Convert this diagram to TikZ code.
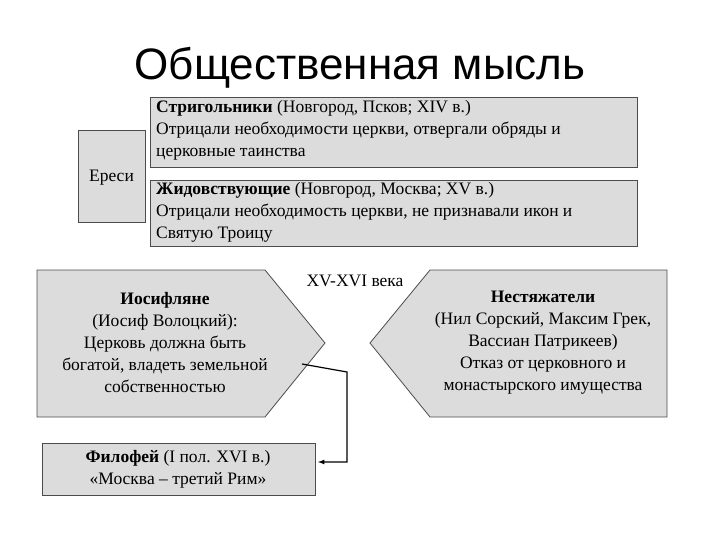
\documentclass[tikz,border=0pt]{standalone}
\usepackage{fontspec}
\setmainfont{Liberation Serif}
\newfontfamily\titlefont{Liberation Sans}
\definecolor{boxgray}{HTML}{DCDCDC}
\begin{document}
\begin{tikzpicture}[x=1pt,y=-1pt,
  box/.style={draw=black!70,fill=boxgray,line width=0.8pt},
  txt/.style={font=\fontsize{17.5}{22}\selectfont,align=left,anchor=north west,inner sep=0pt},
  ctxt/.style={font=\fontsize{17.5}{22}\selectfont,align=center,inner sep=0pt}]
\useasboundingbox (0,0) rectangle (720,540);
\node[font=\titlefont\fontsize{44}{48}\selectfont] (title) at (360,68) {Общественная мысль};
\draw[box] (78,130) rectangle (145,222);
\node[ctxt] (eresi) at (111.5,178) {Ереси};
\draw[box] (150,97) rectangle (637,167);
\node[txt] (s) at (156,100) {\textbf{Стригольники} (Новгород, Псков; XIV в.)\\Отрицали необходимости церкви, отвергали обряды и\\церковные таинства};
\draw[box] (150,180) rectangle (637,246);
\node[txt] (z) at (156,182) {\textbf{Жидовствующие} (Новгород, Москва; XV в.)\\Отрицали необходимость церкви, не признавали икон и\\Святую Троицу};
\draw[box] (37,270) -- (265,270) -- (325,343) -- (265,417) -- (37,417) -- cycle;
\node[ctxt] (ios) at (165,343) {\textbf{Иосифляне}\\(Иосиф Волоцкий):\\Церковь должна быть\\богатой, владеть земельной\\собственностью};
\draw[box] (370,343) -- (430,270) -- (667,270) -- (667,417) -- (430,417) -- cycle;
\node[ctxt] (nes) at (543,343) {\textbf{Нестяжатели}\\(Нил Сорский, Максим Грек,\\Вассиан Патрикеев)\\Отказ от церковного и\\монастырского имущества};
\node[ctxt] (vek) at (355,281) {XV-XVI века};
\draw[box] (42,443) rectangle (315,495);
\node[ctxt] (fil) at (178,469) {\textbf{Филофей} (I пол. XVI в.)\\«Москва – третий Рим»};
\coordinate (a0) at (302,364);
\coordinate (a1) at (347,372);
\draw[line width=1.2pt,-latex] (a0) -- (a1) -- (347,462) -- (318,462);
\end{tikzpicture}
\end{document}
